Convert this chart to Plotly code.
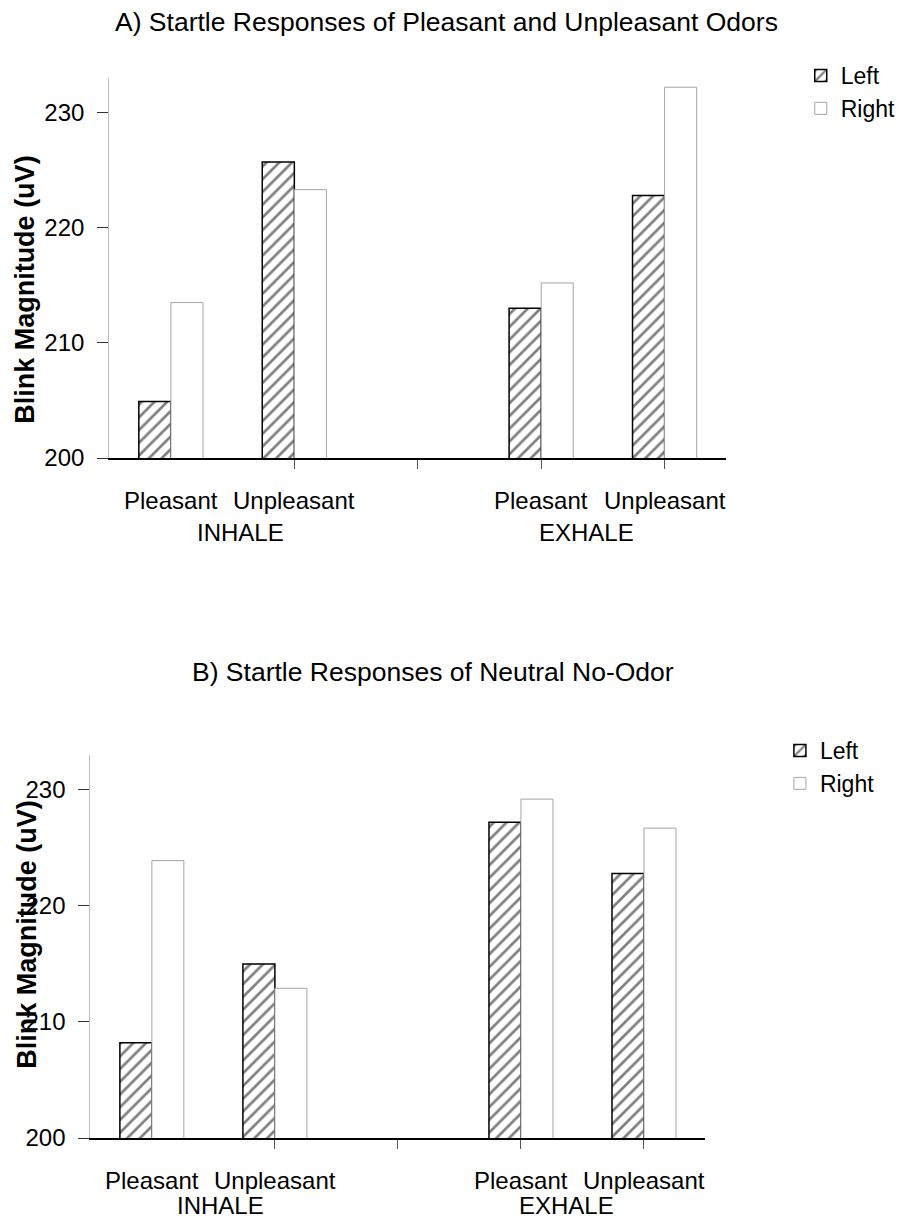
import plotly.graph_objects as go

# ---------------- data ----------------
positions = [0, 1, 3, 4]
conditions = ["Pleasant", "Unpleasant", "Pleasant", "Unpleasant"]
phases = ["INHALE", "EXHALE"]
phase_pos = [0.56, 3.37]
odor_left = [204.9, 225.7, 213.0, 222.8]
odor_right = [213.5, 223.3, 215.2, 232.2]
neutral_left = [208.2, 215.0, 227.2, 222.8]
neutral_right = [223.9, 212.9, 229.2, 226.7]
y_ticks = [200, 210, 220, 230]
x_tickmarks = [1, 2, 3, 4]
titles = ["A) Startle Responses of Pleasant and Unpleasant Odors",
          "B) Startle Responses of Neutral No-Odor"]
y_title = "Blink Magnitude (uV)"
series_names = ["Left", "Right"]

# the page adds an 8px body margin around the figure
OFF = 8
W, H = 893, 1227
FONT = "Liberation Sans, Arial, sans-serif"


def px_x(v):
    return (v - OFF) / W


def px_y(v):
    return 1 - (v - OFF) / H


fig = go.Figure()

panels = [
    dict(left=odor_left, right=odor_right, xa="x", ya="y", leg="legend", axis_y=458, phase_dy=74),
    dict(left=neutral_left, right=neutral_right, xa="x2", ya="y2", leg="legend2", axis_y=1138, phase_dy=67),
]
for p in panels:
    fig.add_trace(go.Bar(
        x=positions, y=p["left"], name=series_names[0], width=0.26, offset=-0.26,
        marker=dict(color="white", line=dict(color="black", width=1.5),
                    pattern=dict(shape="/", fgcolor="black", bgcolor="white",
                                 size=9, solidity=0.3)),
        xaxis=p["xa"], yaxis=p["ya"], legend=p["leg"]))
    fig.add_trace(go.Bar(
        x=positions, y=p["right"], name=series_names[1], width=0.26, offset=0,
        marker=dict(color="white", line=dict(color="#a5a5a5", width=1)),
        xaxis=p["xa"], yaxis=p["ya"], legend=p["leg"]))

xcommon = dict(range=[-0.5, 4.5], showgrid=False, zeroline=False, showline=True,
               linecolor="black", linewidth=1.5, tickmode="array",
               tickvals=x_tickmarks, ticktext=["" for _ in x_tickmarks],
               ticks="outside", ticklen=9, tickcolor="#555", tickwidth=1,
               automargin=False)
ycommon = dict(range=[200, 233], showgrid=False, zeroline=False, showline=True,
               linecolor="#bdbdbd", linewidth=1, tickmode="array",
               tickvals=y_ticks, ticks="outside", ticklen=11, tickcolor="#333",
               tickwidth=1, ticklabelstandoff=8, automargin=False,
               tickfont=dict(family=FONT, size=24, color="black"))

fig.update_layout(
    width=W, height=H, autosize=False,
    margin=dict(l=0, r=0, t=0, b=0, pad=0),
    paper_bgcolor="white", plot_bgcolor="white",
    barmode="overlay",
    font=dict(family=FONT, color="black"),
    xaxis=dict(domain=[px_x(110), px_x(732)], anchor="y", **xcommon),
    yaxis=dict(domain=[px_y(458), px_y(78)], anchor="x", **ycommon),
    xaxis2=dict(domain=[px_x(91), px_x(711)], anchor="y2", **xcommon),
    yaxis2=dict(domain=[px_y(1138), px_y(755)], anchor="x2", **ycommon),
    legend=dict(x=px_x(807), y=px_y(54), xanchor="left", yanchor="top",
                font=dict(family=FONT, size=23, color="black"),
                bgcolor="rgba(0,0,0,0)", tracegroupgap=0),
    legend2=dict(x=px_x(786), y=px_y(729), xanchor="left", yanchor="top",
                 font=dict(family=FONT, size=23, color="black"),
                 bgcolor="rgba(0,0,0,0)", tracegroupgap=0),
    showlegend=True,
)

annotations = []
# titles
annotations.append(dict(text=titles[0], x=px_x(450), y=px_y(22), xref="paper", yref="paper",
                        xanchor="center", yanchor="middle", showarrow=False,
                        font=dict(family=FONT, size=26.5, color="black")))
annotations.append(dict(text=titles[1], x=px_x(436), y=px_y(672), xref="paper", yref="paper",
                        xanchor="center", yanchor="middle", showarrow=False,
                        font=dict(family=FONT, size=26.5, color="black")))
# y-axis titles
for xc, yc in [(25, 290), (27, 935)]:
    annotations.append(dict(text="<b>" + y_title + "</b>", x=px_x(xc), y=px_y(yc),
                            xref="paper", yref="paper", xanchor="center", yanchor="middle",
                            textangle=-90, showarrow=False,
                            font=dict(family=FONT, size=27, color="black")))
# category labels
for p in panels:
    for pos, cond in zip(positions, conditions):
        annotations.append(dict(text=cond, x=pos, y=px_y(p["axis_y"] + 42), xref=p["xa"],
                                yref="paper", xanchor="center", yanchor="middle",
                                showarrow=False,
                                font=dict(family=FONT, size=24, color="black")))
    for pos, ph in zip(phase_pos, phases):
        annotations.append(dict(text=ph, x=pos, y=px_y(p["axis_y"] + p["phase_dy"]),
                                xref=p["xa"], yref="paper", xanchor="center",
                                yanchor="middle", showarrow=False,
                                font=dict(family=FONT, size=24, color="black")))
fig.update_layout(annotations=annotations)

fig.write_html("out.html")
